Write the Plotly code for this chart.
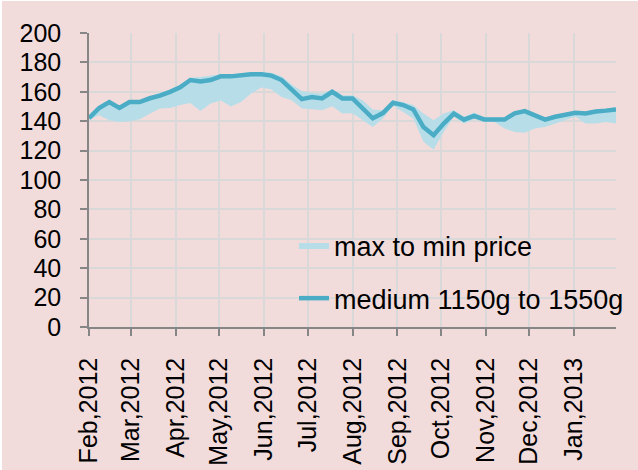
import pandas as pd
import plotly.graph_objects as go

# Weekly observations (Wednesdays) starting 1 Feb 2012
start_date = "2012-02-01"
n_weeks = 53

medium_price = [142, 149, 153, 149, 153, 153, 155.6, 157.4, 160, 163,
                168, 167, 168, 170.5, 170.5, 171.5, 172, 172, 171, 168,
                162, 155, 156.5, 155.5, 160, 155.5, 155.5, 149, 142, 145.5,
                152.5, 151, 148, 136, 130.5, 138.4, 145.2, 141, 143.6, 141.2,
                141.1, 141.1, 145.4, 146.9, 144, 141.1, 143, 144.5, 145.7, 145.2,
                146.6, 147.2, 148]

max_price = [143, 150, 154, 150, 154, 154, 157, 159, 161.5, 165,
             169.5, 170, 171, 172, 172, 173, 173.5, 173.5, 173, 170.5,
             165, 160.5, 159.2, 158.8, 161, 157.6, 157.6, 154.2, 148, 147.5,
             154, 153, 151, 145.2, 140.6, 145.2, 147.4, 143, 146, 142.5,
             142.5, 142.5, 146.5, 148, 145.5, 142.5, 144.5, 145.5, 146.5, 146.5,
             148, 148.5, 149.7]

min_price = [141, 144, 140.6, 139.5, 140, 141.3, 145, 148.6, 149, 151,
             152.4, 147, 152, 154, 150, 153, 158.8, 162.9, 161.5, 156.5,
             154.2, 148.6, 148.1, 147.4, 150.1, 145.2, 145.4, 140.6, 136, 141.8,
             150.5, 146.3, 141.8, 126, 120.5, 132.7, 143, 138.4, 141.5, 139.5,
             139.5, 135, 132.7, 132.2, 135, 136, 138.4, 140.6, 143, 138.4,
             138.4, 139.5, 138.4]

tick_dates = ["2012-02-01", "2012-03-01", "2012-04-01", "2012-05-01", "2012-06-01",
              "2012-07-01", "2012-08-01", "2012-09-01", "2012-10-01", "2012-11-01",
              "2012-12-01", "2013-01-01"]
tick_labels = ["Feb,2012", "Mar,2012", "Apr,2012", "May,2012", "Jun,2012", "Jul,2012",
               "Aug,2012", "Sep,2012", "Oct,2012", "Nov,2012", "Dec,2012", "Jan,2013"]
y_ticks = [0, 20, 40, 60, 80, 100, 120, 140, 160, 180, 200]

dates = pd.date_range(start_date, periods=n_weeks, freq="7D")

BAND = "#B7DEE8"
LINE = "#4BACC6"
PINK = "#F2DCDB"
FONT = "Arial, Liberation Sans, sans-serif"
FS = 25

fig = go.Figure()
fig.add_trace(go.Scatter(x=dates, y=min_price, mode="lines", line=dict(width=0, color=BAND),
                         showlegend=False, hoverinfo="skip", legendgroup="band"))
fig.add_trace(go.Scatter(x=dates, y=max_price, mode="lines", fill="tonexty", fillcolor=BAND,
                         line=dict(width=0, color=BAND), name="max to min price",
                         legendgroup="band"))
fig.add_trace(go.Scatter(x=dates, y=medium_price, mode="lines",
                         line=dict(width=4.5, color=LINE),
                         name="medium 1150g to 1550g", legendgroup="line"))

L, R, T, B = 89, 22, 33, 143
W, H = 638, 470
pw, ph = W - L - R, H - T - B

fig.update_layout(
    width=W, height=H,
    margin=dict(l=L, r=R, t=T, b=B, autoexpand=False),
    paper_bgcolor="white",
    plot_bgcolor=PINK,
    font=dict(family=FONT, size=FS, color="#000000"),
    shapes=[dict(type="rect", xref="paper", yref="paper", layer="below",
                 x0=(2 - L) / pw, x1=(W + 5 - L) / pw,
                 y0=-(B + 5) / ph, y1=(H - B - 1) / ph,
                 fillcolor=PINK, line=dict(width=0))],
    legend=dict(x=(294 - L) / pw, y=(H - B - 221) / ph, xanchor="left", yanchor="top",
                bgcolor="rgba(0,0,0,0)", font=dict(size=27, family=FONT),
                tracegroupgap=15, traceorder="grouped"),
    xaxis=dict(
        type="date", automargin=False,
        range=[dates[0], dates[-1]],
        tickmode="array", tickvals=tick_dates, ticktext=tick_labels,
        tickangle=-90,
        showgrid=True, gridcolor="#D9D9D9", gridwidth=1.5,
        showline=True, linecolor="#868686", linewidth=1.5,
        ticks="outside", ticklen=7, tickcolor="#868686", tickwidth=1.5,
        ticklabelstandoff=12,
        zeroline=False,
        tickfont=dict(size=FS, family=FONT),
    ),
    yaxis=dict(
        range=[0, 200], automargin=False,
        tickmode="array", tickvals=y_ticks,
        showgrid=True, gridcolor="#D9D9D9", gridwidth=1.5,
        showline=True, linecolor="#868686", linewidth=1.5,
        ticks="outside", ticklen=7, tickcolor="#868686", tickwidth=1.5,
        ticklabelstandoff=14,
        zeroline=False,
        tickfont=dict(size=FS, family=FONT),
    ),
)

fig.write_html("out.html", config={"displayModeBar": False},
               post_script="document.body.style.margin='0px';")
